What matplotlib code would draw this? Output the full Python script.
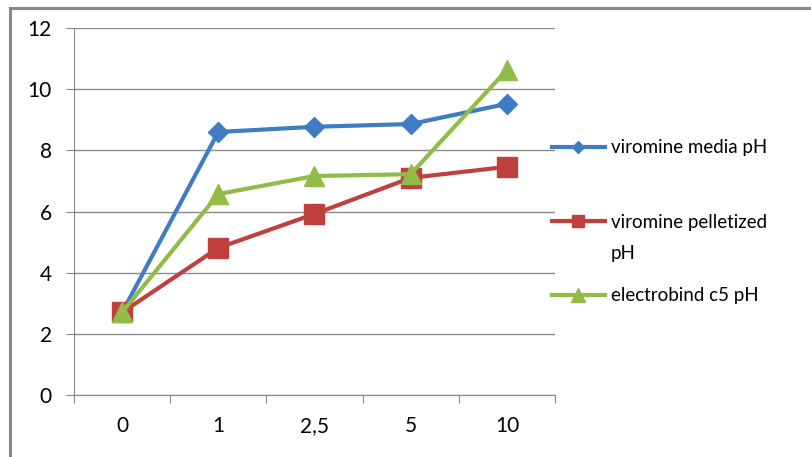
import matplotlib.pyplot as plt
from matplotlib.lines import Line2D

# pH readings per dose
doses = ['0', '1', '2,5', '5', '10']
media_ph = [2.7, 8.6, 8.77, 8.86, 9.52]
pelletized_ph = [2.7, 4.81, 5.92, 7.1, 7.46]
electrobind_ph = [2.7, 6.57, 7.16, 7.22, 10.63]
y_ticks = [0, 2, 4, 6, 8, 10, 12]

plt.rcParams['font.family'] = ['Lato', 'DejaVu Sans']

W, H = 812, 457
fig = plt.figure(figsize=(W / 100, H / 100), dpi=100)
ax = fig.add_axes([74 / W, 1 - 395 / H, (555 - 74) / W, (395 - 28) / H])

series = [
    ('viromine media pH', media_ph, '#3F7CC4', 'D', 10, 6.5),
    ('viromine pelletized pH', pelletized_ph, '#C0403D', 's', 14, 9),
    ('electrobind c5 pH', electrobind_ph, '#92BB47', '^', 15, 10),
]

x = list(range(len(doses)))
for i, (name, vals, col, mk, ms, _) in enumerate(series):
    ax.plot(x, vals, color=col, lw=3, marker=mk, ms=ms, mec=col, zorder=3 + i)

ax.set_xlim(-0.5, len(doses) - 0.5)
ax.set_ylim(0, 12)
ax.set_yticks(y_ticks)
ax.yaxis.grid(True, color='#8a8a8a', lw=1)
ax.set_axisbelow(True)

# category labels centred, tick marks between categories
ax.set_xticks([i - 0.5 for i in range(len(doses) + 1)])
ax.set_xticklabels([])
ax.set_xticks(x, minor=True)
ax.set_xticklabels(doses, minor=True)
ax.tick_params(axis='x', which='major', length=6, color='#8a8a8a', direction='out')
ax.tick_params(axis='x', which='minor', length=0, pad=15, labelsize=15)
ax.tick_params(axis='y', length=6, color='#8a8a8a', pad=10, labelsize=15)

for side in ['top', 'right']:
    ax.spines[side].set_visible(False)
for side in ['left', 'bottom']:
    ax.spines[side].set_color('#8a8a8a')

# legend on the right, second label wraps onto two lines
legend_rows = [147, 221, 295]
for (name, vals, col, mk, ms, lms), yp in zip(series, legend_rows):
    yf = 1 - yp / H
    fig.add_artist(Line2D([552 / W, 578 / W, 605 / W], [yf, yf, yf], color=col, lw=3,
                          marker=mk, ms=lms, mec=col, markevery=[1]))
    label = name.replace('pelletized ', 'pelletized\n')
    if '\n' in label:
        fig.text(611 / W, yf + 7 / H, label, fontsize=13.5, va='top', linespacing=2.0)
    else:
        fig.text(611 / W, yf, label, fontsize=13.5, va='center')

# outer chart frame
fig.add_artist(Line2D([10 / W, 1], [1 - 8 / H, 1 - 8 / H], color='#888888', lw=2.2))
fig.add_artist(Line2D([10 / W, 10 / W], [0, 1 - 8 / H], color='#888888', lw=2.2))

fig.savefig('out.png', dpi=100)
